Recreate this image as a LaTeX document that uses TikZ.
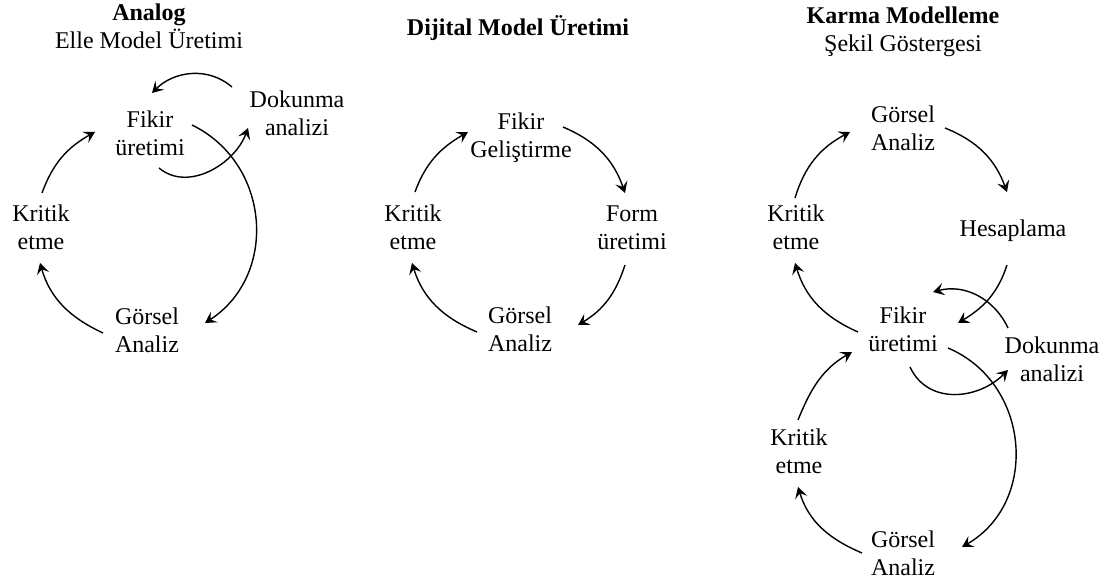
\documentclass[tikz,border=0pt]{standalone}
\usepackage{fontspec}
\setmainfont{Liberation Serif}
\usetikzlibrary{arrows.meta,calc}
\newcommand\twoln[2]{\strut#1\\\strut#2}
\begin{document}
\begin{tikzpicture}[x=1pt,y=1pt,
  lbl/.style={inner sep=0pt,align=center,font=\fontsize{24}{28}\selectfont},
  ttl/.style={lbl},
  arr/.style={line width=1.4pt,-{Stealth[length=11pt,width=12.5pt,inset=4.5pt]}}]
\useasboundingbox (0,0) rectangle (1109,-580);

% --- Analog ---
\node[ttl] (t1) at (149,-29.4) {\twoln{\textbf{Analog}}{Elle Model Üretimi}};
\node[lbl] (f1) at (150,-136.4) {\twoln{Fikir}{üretimi}};
\node[lbl] (d1) at (297,-116.4) {\twoln{Dokunma}{analizi}};
\node[lbl] (k1) at (41,-230.4) {\twoln{Kritik}{etme}};
\node[lbl] (g1) at (147,-332.4) {\twoln{Görsel}{Analiz}};

\draw[arr] ($(k1)+(1,37.4)$) to[out=70,in=209] ($(f1)+(-55,4.4)$);
\draw[arr] ($(g1)+(-44,-0.6)$) to[out=155,in=286] ($(k1)+(-1,-32.6)$);
\draw[arr] ($(f1)+(42,11.4)$) to[out=-26,in=33,looseness=1.13] ($(g1)+(58,9.4)$);
\draw[arr] ($(d1)+(-65,29.4)$) to[out=139,in=45] ($(f1)+(2,43.4)$);
\draw[arr] ($(f1)+(9,-31.6)$) to[out=-40,in=250] ($(d1)+(-49,-11.6)$);

% --- Dijital ---
\node[ttl] (t2) at (518,-29.4) {\strut\textbf{Dijital Model Üretimi}};
\node[lbl] (f2) at (521,-138.4) {\twoln{Fikir}{Geliştirme}};
\node[lbl] (fo2) at (632,-230.4) {\twoln{Form}{üretimi}};
\node[lbl] (k2) at (413,-230.4) {\twoln{Kritik}{etme}};
\node[lbl] (g2) at (520,-331.4) {\twoln{Görsel}{Analiz}};

\draw[arr] ($(k2)+(2,38.4)$) to[out=70,in=210] ($(f2)+(-53,6.4)$);
\draw[arr] ($(f2)+(42,11.4)$) to[out=-23,in=109] ($(fo2)+(-7,37.4)$);
\draw[arr] ($(fo2)+(-7,-34.6)$) to[out=-108,in=31] ($(g2)+(58,6.4)$);
\draw[arr] ($(g2)+(-43,-0.6)$) to[out=157,in=287] ($(k2)+(-1,-32.6)$);

% --- Karma ---
\node[ttl] (t3) at (903,-32.4) {\twoln{\textbf{Karma Modelleme}}{Şekil Göstergesi}};
\node[lbl] (g3a) at (903,-131.4) {\twoln{Görsel}{Analiz}};
\node[lbl] (h3) at (1013,-231.4) {\strut Hesaplama};
\node[lbl] (k3a) at (796,-230.4) {\twoln{Kritik}{etme}};
\node[lbl] (f3) at (903,-331.4) {\twoln{Fikir}{üretimi}};
\node[lbl] (d3) at (1052,-361.4) {\twoln{Dokunma}{analizi}};
\node[lbl] (k3b) at (799,-453.4) {\twoln{Kritik}{etme}};
\node[lbl] (g3b) at (903,-555.4) {\twoln{Görsel}{Analiz}};

\draw[arr] ($(k3a)+(-1,32.4)$) to[out=73,in=208] ($(g3a)+(-53,-0.6)$);
\draw[arr] ($(g3a)+(42,3.4)$) to[out=-22,in=110] ($(h3)+(-6,39.4)$);
\draw[arr] ($(h3)+(-6,-33.6)$) to[out=-108,in=31] ($(f3)+(55,8.4)$);
\draw[arr] ($(f3)+(-45,-0.6)$) to[out=156,in=287] ($(k3a)+(-1,-32.6)$);
\draw[arr] ($(k3b)+(-1,33.4)$) to[out=68,in=210] ($(f3)+(-51,-20.6)$);
\draw[arr] ($(g3b)+(-41,2.4)$) to[out=157,in=287] ($(k3b)+(-1,-33.6)$);
\draw[arr] ($(f3)+(45,-16.6)$) to[out=-23,in=30,looseness=1.15] ($(g3b)+(59,8.4)$);
\draw[arr] ($(d3)+(-44,33.4)$) to[out=115,in=15] ($(f3)+(30,39.4)$);
\draw[arr] ($(f3)+(7,-35.6)$) to[out=-65,in=225,looseness=1.1] ($(d3)+(-44,-8.6)$);
\end{tikzpicture}
\end{document}
